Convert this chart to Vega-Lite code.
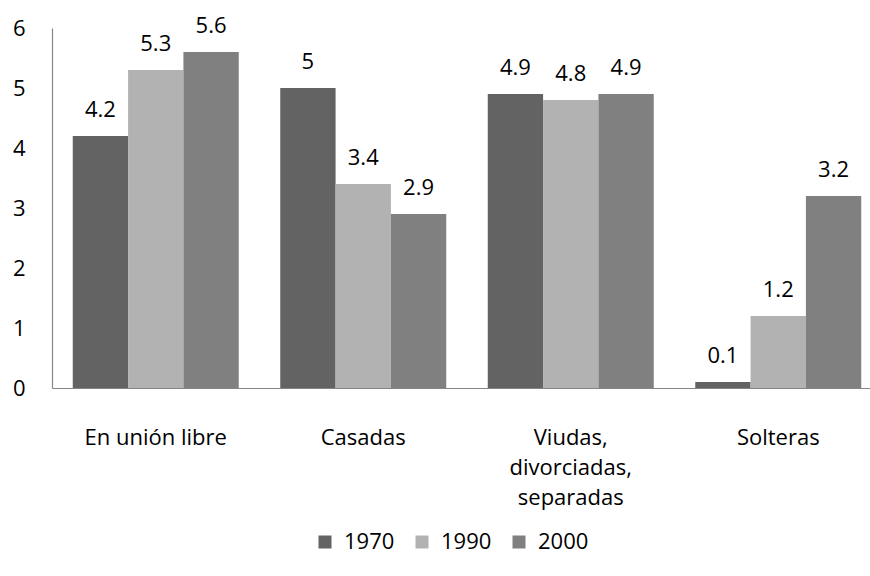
{
  "$schema": "https://vega.github.io/schema/vega-lite/v6.json",
  "width": 818,
  "height": 360,
  "autosize": "none",
  "padding": {"left": 52, "top": 28, "right": 0, "bottom": 188},
  "background": "white",
  "config": {
    "font": "Open Sans",
    "view": {"stroke": null},
    "axis": {
      "domainColor": "#868686",
      "domainWidth": 1.2,
      "ticks": false,
      "tickSize": 0,
      "grid": false,
      "labelColor": "#000000",
      "labelFontSize": 22,
      "labelFont": "Open Sans",
      "title": null
    },
    "legend": {
      "labelFont": "Open Sans",
      "labelFontSize": 22,
      "labelColor": "#000000"
    }
  },
  "data": {
    "values": [
      {"categoria": "En unión libre", "anio": "1970", "valor": 4.2},
      {"categoria": "En unión libre", "anio": "1990", "valor": 5.3},
      {"categoria": "En unión libre", "anio": "2000", "valor": 5.6},
      {"categoria": "Casadas", "anio": "1970", "valor": 5},
      {"categoria": "Casadas", "anio": "1990", "valor": 3.4},
      {"categoria": "Casadas", "anio": "2000", "valor": 2.9},
      {"categoria": "Viudas, divorciadas, separadas", "anio": "1970", "valor": 4.9},
      {"categoria": "Viudas, divorciadas, separadas", "anio": "1990", "valor": 4.8},
      {"categoria": "Viudas, divorciadas, separadas", "anio": "2000", "valor": 4.9},
      {"categoria": "Solteras", "anio": "1970", "valor": 0.1},
      {"categoria": "Solteras", "anio": "1990", "valor": 1.2},
      {"categoria": "Solteras", "anio": "2000", "valor": 3.2}
    ]
  },
  "encoding": {
    "x": {
      "field": "categoria",
      "type": "nominal",
      "sort": null,
      "scale": {"range": [0, 830], "paddingInner": 0.2, "paddingOuter": 0.1},
      "axis": {
        "labelAngle": 0,
        "labelPadding": 39,
        "labelLineHeight": 30,
        "labelLimit": 0,
        "labelExpr": "datum.value == 'Viudas, divorciadas, separadas' ? ['Viudas,', 'divorciadas,', 'separadas'] : datum.value"
      }
    },
    "xOffset": {"field": "anio", "type": "nominal", "sort": ["1970", "1990", "2000"]},
    "y": {
      "field": "valor",
      "type": "quantitative",
      "scale": {"domain": [0, 6], "nice": false},
      "axis": {"values": [0, 1, 2, 3, 4, 5, 6], "labelPadding": 27}
    }
  },
  "layer": [
    {
      "mark": {"type": "bar"},
      "encoding": {
        "color": {
          "field": "anio",
          "type": "nominal",
          "scale": {"domain": ["1970", "1990", "2000"], "range": ["#636363", "#b2b2b2", "#808080"]},
          "legend": {
            "title": null,
            "orient": "none",
            "direction": "horizontal",
            "legendX": 262,
            "legendY": 503,
            "padding": 0,
            "symbolType": "square",
            "symbolSize": 169,
            "symbolStrokeWidth": 0,
            "symbolOpacity": 1,
            "labelOffset": 8,
            "columnPadding": 16
          }
        }
      }
    },
    {
      "mark": {"type": "text", "baseline": "alphabetic", "dy": -19, "fontSize": 22, "font": "Open Sans", "color": "#000000"},
      "encoding": {"text": {"field": "valor", "type": "quantitative"}}
    }
  ]
}
